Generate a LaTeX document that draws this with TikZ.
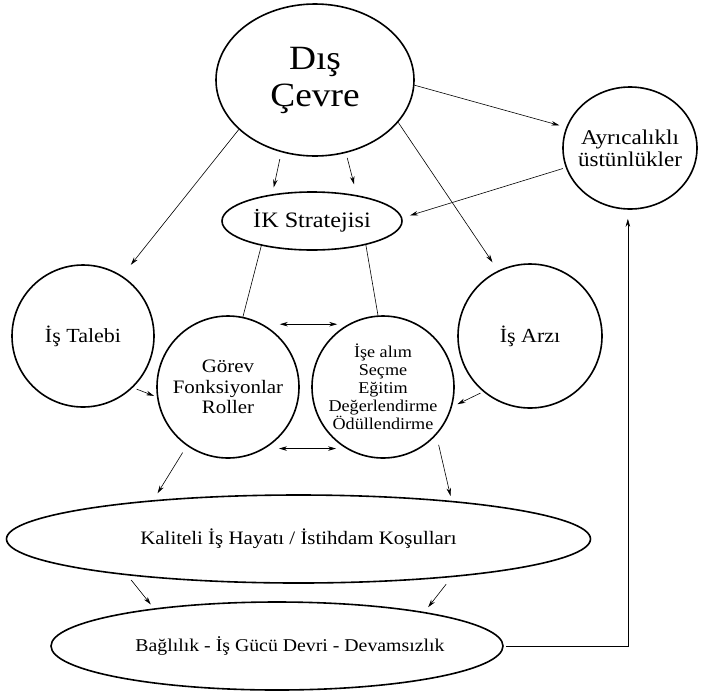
\documentclass[tikz,border=0pt]{standalone}
\usepackage{fontspec}
\setmainfont{Liberation Serif}[FakeStretch=1.1]
\usetikzlibrary{shapes.geometric,arrows.meta}
\tikzset{
  kabarcik/.style={circle,draw,line width=1.6pt,minimum size=142pt,inner sep=0pt,align=center},
  oval/.style={ellipse,draw,line width=1.6pt,inner sep=0pt,align=center},
  ok/.style={-{Stealth[length=8pt,width=4.5pt]},line width=0.6pt},
  cift/.style={{Stealth[length=8pt,width=4.5pt]}-{Stealth[length=8pt,width=4.5pt]},line width=0.6pt},
  cizgi/.style={line width=0.6pt}
}
\begin{document}
\begin{tikzpicture}[x=1pt,y=-1pt]
        \useasboundingbox (0,0) rectangle (701,694);
        \node[oval,minimum width=198pt,minimum height=152pt,font=\fontsize{34}{37}\selectfont] (dis) at (315,80) {Dış\\Çevre};
        \node[oval,minimum width=180pt,minimum height=58pt,font=\fontsize{22}{24}\selectfont] (ik) at (312,221) {İK Stratejisi};
        \node[oval,minimum width=134pt,minimum height=122pt,inner xsep=-15pt,font=\fontsize{21}{22}\selectfont] (ayr) at (630,148) {Ayrıcalıklı\\üstünlükler};
        \node[kabarcik,font=\fontsize{20}{22}\selectfont] (talep) at (83,336) {İş Talebi};
        \node[kabarcik,font=\fontsize{19}{20.5}\selectfont] (gorev) at (228,387) {Görev\\Fonksiyonlar\\Roller};
        \node[kabarcik,font=\fontsize{16.5}{18}\selectfont] (ika) at (383,387) {İşe alım\\Seçme\\Eğitim\\Değerlendirme\\Ödüllendirme};
        \node[kabarcik,minimum size=144pt,font=\fontsize{20}{22}\selectfont] (arz) at (530,336) {İş Arzı};
        \node[oval,minimum width=584pt,minimum height=88pt,font=\fontsize{19}{21}\selectfont] (kalite) at (298.5,539) {Kaliteli İş Hayatı / İstihdam Koşulları};
        \node[oval,minimum width=452pt,minimum height=88pt,inner xsep=-20pt,font=\fontsize{18}{20}\selectfont] (bag) at (277,646) {\hspace*{26pt}Bağlılık - İş Gücü Devri - Devamsızlık};
        \draw[ok,shorten <=7pt,shorten >=7pt] (dis.245) -- (ik.146);
        \draw[ok,shorten <=5pt,shorten >=11pt] (dis.293) -- (ik.30);
        \draw[ok,shorten >=14pt] (dis.213) -- (talep.57);
        \draw[ok,shorten >=7pt] (dis.357) -- (ayr.162);
        \draw[ok,shorten >=10pt] (dis.333) -- (arz.116);
        \draw[ok,shorten <=3pt,shorten >=8pt] (ayr.197) -- (ik.2);
        \draw[cizgi] (ik.206) -- (gorev.78);
        \draw[cizgi] (ik.336) -- (ika.94);
        \draw[ok,shorten <=4pt,shorten >=3pt] (talep.314) -- (gorev.188);
        \draw[ok,shorten <=3pt,shorten >=6pt] (arz.230) -- (ika.344);
        \draw[cift,shorten <=17pt,shorten >=11pt] (gorev.61) -- (ika.119);
        \draw[cift,shorten <=14pt,shorten >=10pt] (gorev.-59) -- (ika.239);
        \draw[ok,shorten <=8pt,shorten >=8pt] (gorev.235) -- (kalite.165);
        \draw[ok,shorten <=10pt,shorten >=5pt] (ika.318) -- (kalite.14);
        \draw[ok,shorten <=6pt,shorten >=5pt] (kalite.192) -- (bag.163);
        \draw[ok,shorten <=9pt,shorten >=6pt] (kalite.346) -- (bag.13);
        \draw[ok,shorten <=2pt,shorten >=9pt] (bag.east) -| (ayr.268);
\end{tikzpicture}
\end{document}
